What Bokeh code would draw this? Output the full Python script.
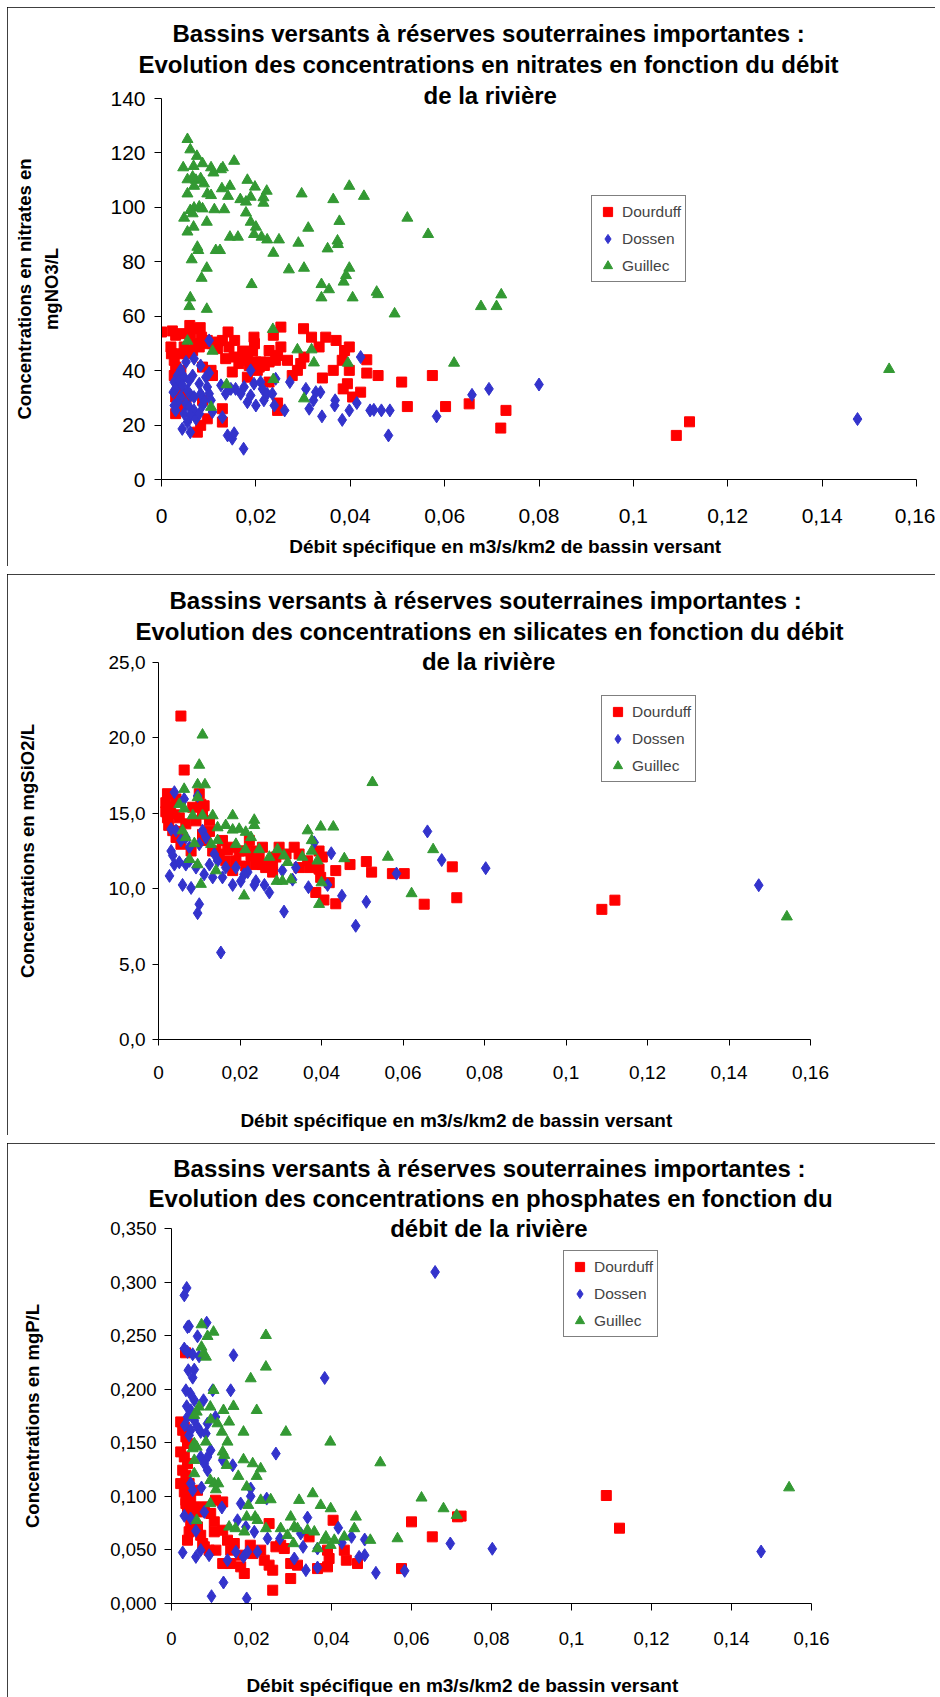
from bokeh.plotting import figure
from bokeh.models import Legend, LegendItem, FixedTicker, Title
from bokeh.layouts import column
from bokeh.embed import file_html
from bokeh.resources import INLINE

# ---------------- DATA ----------------
SERIES = ["Dourduff", "Dossen", "Guillec"]

X_TICKS = [0, 0.02, 0.04, 0.06, 0.08, 0.1, 0.12, 0.14, 0.16]
X_TICK_LABELS = ["0", "0,02", "0,04", "0,06", "0,08", "0,1", "0,12", "0,14", "0,16"]

NO3_TICKS = [0, 20, 40, 60, 80, 100, 120, 140]
NO3_TICK_LABELS = ["0", "20", "40", "60", "80", "100", "120", "140"]
SIO2_TICKS = [0, 5, 10, 15, 20, 25]
SIO2_TICK_LABELS = ["0,0", "5,0", "10,0", "15,0", "20,0", "25,0"]
P_TICKS = [0, 0.05, 0.1, 0.15, 0.2, 0.25, 0.3, 0.35]
P_TICK_LABELS = ["0,000", "0,050", "0,100", "0,150", "0,200", "0,250", "0,300", "0,350"]

# Nitrates (x = débit spécifique, y = mgNO3/L)
NO3_DOURDUFF = [(0.0000,54.2),(0.0023,54.6),(0.0030,53.0),(0.0020,48.7),(0.0021,46.2),(0.0027,43.8),(0.0030,41.3),(0.0027,38.2),(0.0034,35.8),(0.0037,32.7),(0.0030,30.3),(0.0030,24.2),(0.0040,26.6),(0.0044,53.6),(0.0060,56.6),(0.0062,53.6),(0.0073,55.4),(0.0082,55.8),(0.0085,52.3),(0.0071,49.9),(0.0048,48.7),(0.0055,46.2),(0.0066,47.4),(0.0080,48.7),(0.0094,49.9),(0.0041,46.2),(0.0097,51.1),(0.0108,49.9),(0.0119,50.5),(0.0129,51.1),(0.0141,54.2),(0.0155,51.1),(0.0119,48.1),(0.0136,44.4),(0.0143,48.7),(0.0154,45.0),(0.0172,47.2),(0.0175,43.8),(0.0196,52.3),(0.0197,49.9),(0.0193,47.2),(0.0182,45.4),(0.0164,42.6),(0.0186,41.9),(0.0200,43.2),(0.0210,43.2),(0.0228,47.4),(0.0237,53.0),(0.0253,56.0),(0.0253,48.7),(0.0246,45.6),(0.0267,43.8),(0.0242,43.8),(0.0228,43.2),(0.0218,41.9),(0.0207,41.3),(0.0203,40.1),(0.0301,55.4),(0.0318,52.3),(0.0334,48.7),(0.0348,52.3),(0.0370,51.1),(0.0302,45.0),(0.0295,42.6),(0.0288,40.1),(0.0277,38.2),(0.0388,47.4),(0.0398,48.7),(0.0383,43.8),(0.0398,40.1),(0.0394,35.2),(0.0385,33.3),(0.0405,30.3),(0.0422,32.1),(0.0435,44.0),(0.0435,39.1),(0.0341,37.3),(0.0364,40.1),(0.0459,38.2),(0.0509,35.8),(0.0521,26.8),(0.0574,38.2),(0.0602,26.8),(0.0652,27.8),(0.0730,25.4),(0.0719,18.9),(0.0150,39.5),(0.0182,37.6),(0.0228,35.8),(0.0246,28.1),(0.0246,25.4),(0.0129,26.0),(0.0129,21.1),(0.0097,22.3),(0.0076,17.4),(0.0083,19.9),(0.0087,29.1),(0.0105,40.1),(0.0108,38.2),(0.0087,41.3),(0.0041,40.1),(0.0046,31.5),(0.0052,29.7),(0.1091,16.2),(0.1119,21.2)]
NO3_DOSSEN = [(0.0052,43.2),(0.0069,44.4),(0.0083,41.9),(0.0101,51.1),(0.0101,39.1),(0.0041,40.3),(0.0034,38.2),(0.0027,35.8),(0.0030,33.3),(0.0025,32.1),(0.0037,36.4),(0.0048,37.6),(0.0059,36.4),(0.0066,38.2),(0.0044,34.6),(0.0055,32.7),(0.0062,30.9),(0.0041,30.3),(0.0052,27.8),(0.0034,28.4),(0.0027,27.2),(0.0030,25.4),(0.0059,26.6),(0.0069,25.4),(0.0048,24.2),(0.0062,23.5),(0.0073,22.3),(0.0055,21.1),(0.0044,18.6),(0.0061,17.4),(0.0080,24.2),(0.0087,27.2),(0.0090,29.1),(0.0080,35.2),(0.0097,34.0),(0.0101,31.5),(0.0094,37.6),(0.0105,29.1),(0.0069,30.3),(0.0083,31.5),(0.0108,24.8),(0.0126,34.6),(0.0129,22.9),(0.0136,31.5),(0.0140,16.2),(0.0150,15.0),(0.0154,17.0),(0.0174,11.3),(0.0147,33.3),(0.0157,33.3),(0.0168,31.5),(0.0175,34.0),(0.0182,28.4),(0.0189,30.9),(0.0189,40.1),(0.0196,35.2),(0.0200,27.2),(0.0210,35.8),(0.0214,33.3),(0.0217,29.1),(0.0224,31.5),(0.0235,31.5),(0.0239,27.2),(0.0242,37.0),(0.0261,25.4),(0.0272,35.8),(0.0306,33.3),(0.0313,26.0),(0.0322,29.1),(0.0327,32.1),(0.0337,32.1),(0.0340,23.2),(0.0368,29.1),(0.0367,27.2),(0.0383,21.9),(0.0398,25.4),(0.0414,28.1),(0.0422,45.0),(0.0442,25.4),(0.0450,25.6),(0.0466,25.4),(0.0484,25.4),(0.0481,16.2),(0.0583,23.2),(0.0658,31.1),(0.0694,33.3),(0.0800,34.9),(0.1475,22.2)]
NO3_GUILLEC = [(0.0055,125.0),(0.0061,121.2),(0.0075,118.8),(0.0046,114.6),(0.0068,115.1),(0.0087,116.1),(0.0105,114.6),(0.0110,112.7),(0.0126,113.9),(0.0130,114.6),(0.0154,117.0),(0.0055,110.2),(0.0066,111.2),(0.0073,110.0),(0.0083,110.6),(0.0090,108.7),(0.0069,107.8),(0.0097,105.0),(0.0105,104.4),(0.0055,105.0),(0.0128,106.9),(0.0145,107.8),(0.0141,104.1),(0.0182,110.0),(0.0198,107.5),(0.0223,106.0),(0.0216,103.6),(0.0189,103.8),(0.0167,102.9),(0.0179,102.0),(0.0216,101.6),(0.0297,105.0),(0.0364,102.9),(0.0398,107.8),(0.0429,104.1),(0.0521,96.1),(0.0565,90.1),(0.0048,96.1),(0.0061,98.9),(0.0069,99.8),(0.0080,100.2),(0.0087,99.5),(0.0066,97.7),(0.0068,92.8),(0.0055,91.0),(0.0096,94.6),(0.0112,99.2),(0.0133,99.2),(0.0179,98.0),(0.0189,94.6),(0.0200,92.8),(0.0196,90.1),(0.0212,89.1),(0.0224,88.1),(0.0249,88.1),(0.0237,83.2),(0.0145,89.1),(0.0162,89.1),(0.0290,86.9),(0.0311,92.4),(0.0352,84.8),(0.0373,87.7),(0.0374,86.4),(0.0377,94.9),(0.0076,85.4),(0.0078,84.2),(0.0115,84.2),(0.0124,84.2),(0.0064,80.8),(0.0096,77.7),(0.0085,74.0),(0.0191,71.7),(0.0270,77.1),(0.0302,77.7),(0.0339,71.7),(0.0355,69.8),(0.0339,66.8),(0.0386,72.6),(0.0391,75.0),(0.0398,77.7),(0.0405,66.8),(0.0456,68.9),(0.0459,68.0),(0.0494,60.9),(0.0061,66.8),(0.0059,63.6),(0.0096,62.6),(0.0677,63.6),(0.0710,63.6),(0.0720,67.9),(0.0620,42.8),(0.0236,55.2),(0.0055,50.9),(0.0108,47.2),(0.0288,47.7),(0.0318,47.7),(0.0323,42.9),(0.0395,42.8),(0.0237,36.8),(0.0138,34.9),(0.0302,29.7),(0.0105,26.6),(0.1542,40.5)]

# Silicates (y = mgSiO2/L)
SIO2_DOURDUFF = [(0.0063,17.87),(0.0055,21.45),(0.0022,16.3),(0.0018,15.7),(0.0027,15.4),(0.0018,15.1),(0.0022,14.7),(0.0100,16.3),(0.0104,15.6),(0.0112,15.5),(0.0108,14.95),(0.0125,14.5),(0.0125,13.8),(0.0116,13.2),(0.0133,12.5),(0.0149,12.3),(0.0165,11.85),(0.0043,13.4),(0.0035,13.85),(0.0055,12.95),(0.0080,12.5),(0.0182,12.75),(0.0198,12.5),(0.0223,13.2),(0.0239,12.5),(0.0255,12.75),(0.0247,12.1),(0.0239,11.6),(0.0263,11.4),(0.0280,11.6),(0.0296,12.75),(0.0313,12.3),(0.0333,12.75),(0.0345,12.3),(0.0366,11.85),(0.0370,11.4),(0.0394,12.5),(0.0394,11.3),(0.0402,12.1),(0.0398,10.75),(0.0419,10.4),(0.0386,9.75),(0.0406,9.25),(0.0435,11.2),(0.0435,9.0),(0.0470,11.6),(0.0510,11.8),(0.0523,11.1),(0.0574,11.0),(0.0603,11.0),(0.0721,11.45),(0.0732,9.4),(0.0652,8.97),(0.0190,11.85),(0.0214,11.5),(0.0255,11.6),(0.0288,12.1),(0.0214,12.5),(0.0345,11.4),(0.0157,13.2),(0.0170,12.6),(0.0092,14.5),(0.0084,15.4),(0.0043,15.95),(0.0051,14.7),(0.0067,14.3),(0.0108,13.6),(0.0141,12.5),(0.0182,11.2),(0.0227,12.2),(0.0280,11.1),(0.0030,15.0),(0.0025,14.2),(0.0040,14.9),(0.0048,13.8),(0.1088,8.63),(0.1120,9.24)]
SIO2_DOSSEN = [(0.0039,16.4),(0.0063,15.95),(0.0096,16.15),(0.0031,13.95),(0.0043,13.85),(0.0055,13.2),(0.0067,13.4),(0.0076,12.75),(0.0100,12.95),(0.0108,13.85),(0.0031,12.5),(0.0035,12.2),(0.0039,11.6),(0.0051,11.75),(0.0067,11.6),(0.0027,10.85),(0.0059,10.25),(0.0080,10.05),(0.0100,8.97),(0.0096,8.38),(0.0137,12.3),(0.0133,10.75),(0.0157,10.75),(0.0182,10.25),(0.0202,10.5),(0.0219,11.1),(0.0235,10.25),(0.0239,10.5),(0.0260,10.25),(0.0272,9.75),(0.0153,5.77),(0.0308,8.48),(0.0304,11.2),(0.0337,11.4),(0.0329,10.6),(0.0382,13.07),(0.0368,10.1),(0.0415,10.25),(0.0424,12.35),(0.0450,9.53),(0.0484,7.54),(0.0510,9.13),(0.0584,11.0),(0.0660,13.8),(0.0695,11.9),(0.0116,13.4),(0.0125,11.6),(0.0145,11.85),(0.0165,11.4),(0.0190,11.4),(0.0210,10.95),(0.0076,11.85),(0.0092,11.4),(0.0112,10.95),(0.0803,11.36),(0.1473,10.23)]
SIO2_GUILLEC = [(0.0108,20.2),(0.0100,18.2),(0.0096,16.9),(0.0114,16.9),(0.0063,16.6),(0.0096,16.05),(0.0051,15.6),(0.0063,15.3),(0.0084,14.85),(0.0108,14.85),(0.0133,14.85),(0.0182,14.85),(0.0235,14.55),(0.0235,14.2),(0.0145,14.05),(0.0165,14.2),(0.0182,13.9),(0.0198,13.95),(0.0214,13.75),(0.0227,13.4),(0.0059,13.85),(0.0067,13.4),(0.0088,13.0),(0.0129,12.95),(0.0145,13.2),(0.0190,12.95),(0.0213,12.6),(0.0247,12.6),(0.0292,12.6),(0.0272,12.1),(0.0308,12.2),(0.0317,11.75),(0.0353,12.1),(0.0366,13.85),(0.0376,13.2),(0.0398,14.1),(0.0429,14.1),(0.0376,12.5),(0.0390,11.85),(0.0076,11.95),(0.0096,11.6),(0.0141,11.2),(0.0104,10.3),(0.0210,9.53),(0.0290,10.5),(0.0304,10.5),(0.0325,10.6),(0.0400,10.4),(0.0394,8.97),(0.0456,12.0),(0.0525,17.05),(0.0563,12.1),(0.0621,9.68),(0.0674,12.6),(0.1542,8.14)]

# Phosphates (y = mgP/L)
P_DOURDUFF = [(0.0023,0.1695),(0.0032,0.1648),(0.0028,0.1617),(0.0036,0.1555),(0.0040,0.1493),(0.0023,0.1415),(0.0032,0.1368),(0.0040,0.1306),(0.0028,0.1244),(0.0036,0.1197),(0.0023,0.1119),(0.0044,0.1119),(0.0032,0.1042),(0.0048,0.0995),(0.0036,0.0933),(0.0057,0.0902),(0.0040,0.0840),(0.0069,0.0855),(0.0082,0.0902),(0.0098,0.0840),(0.0110,0.0964),(0.0128,0.0948),(0.0048,0.0746),(0.0065,0.0715),(0.0044,0.0669),(0.0073,0.0637),(0.0040,0.0591),(0.0078,0.0560),(0.0107,0.0669),(0.0128,0.0684),(0.0140,0.0591),(0.0157,0.0560),(0.0111,0.0498),(0.0128,0.0373),(0.0148,0.0373),(0.0173,0.0342),(0.0182,0.0280),(0.0197,0.0544),(0.0203,0.0466),(0.0223,0.0498),(0.0232,0.0404),(0.0244,0.0746),(0.0244,0.0358),(0.0253,0.0311),(0.0253,0.0124),(0.0261,0.0529),(0.0273,0.0544),(0.0282,0.0513),(0.0298,0.0233),(0.0298,0.0373),(0.0315,0.0358),(0.0344,0.0622),(0.0365,0.0326),(0.0390,0.0342),(0.0394,0.0420),(0.0390,0.0498),(0.0404,0.0777),(0.0432,0.0498),(0.0437,0.0404),(0.0465,0.0373),(0.0148,0.0498),(0.0173,0.0451),(0.0082,0.0529),(0.0094,0.0498),(0.0107,0.0762),(0.0053,0.0809),(0.0065,0.1057),(0.0036,0.0964),(0.0575,0.0326),(0.0600,0.0762),(0.0652,0.0622),(0.0715,0.0809),(0.0724,0.0816),(0.0035,0.2340),(0.1087,0.1008),(0.1120,0.0703)]
P_DOSSEN = [(0.0038,0.2945),(0.0032,0.2876),(0.0040,0.2580),(0.0044,0.2587),(0.0088,0.2621),(0.0065,0.2494),(0.0032,0.2379),(0.0040,0.2348),(0.0053,0.2326),(0.0069,0.2307),(0.0155,0.2317),(0.0042,0.2177),(0.0057,0.2183),(0.0053,0.2108),(0.0036,0.1990),(0.0047,0.1959),(0.0057,0.1897),(0.0080,0.1897),(0.0103,0.1990),(0.0148,0.1990),(0.0038,0.1841),(0.0048,0.1803),(0.0040,0.1741),(0.0033,0.1664),(0.0057,0.1710),(0.0065,0.1648),(0.0048,0.1617),(0.0044,0.1570),(0.0073,0.1601),(0.0086,0.1586),(0.0090,0.1679),(0.0110,0.1741),(0.0098,0.1430),(0.0090,0.1368),(0.0073,0.1368),(0.0082,0.1306),(0.0090,0.1244),(0.0128,0.1337),(0.0153,0.1290),(0.0261,0.1399),(0.0048,0.1119),(0.0053,0.1057),(0.0075,0.1082),(0.0198,0.1073),(0.0198,0.1001),(0.0238,0.0979),(0.0173,0.0933),(0.0126,0.0896),(0.0032,0.0818),(0.0048,0.0793),(0.0082,0.0855),(0.0061,0.0678),(0.0165,0.0777),(0.0186,0.0715),(0.0207,0.0669),(0.0240,0.0606),(0.0271,0.0606),(0.0323,0.0653),(0.0340,0.0802),(0.0417,0.0706),(0.0450,0.0622),(0.0483,0.0597),(0.0426,0.0566),(0.0329,0.0529),(0.0365,0.0513),(0.0028,0.0476),(0.0061,0.0435),(0.0073,0.0498),(0.0094,0.0451),(0.0140,0.0404),(0.0161,0.0482),(0.0180,0.0435),(0.0190,0.0482),(0.0215,0.0482),(0.0307,0.0420),(0.0469,0.0435),(0.0483,0.0451),(0.0336,0.0311),(0.0365,0.0336),(0.0511,0.0286),(0.0583,0.0305),(0.0100,0.0068),(0.0130,0.0196),(0.0188,0.0047),(0.0659,0.3094),(0.0383,0.2105),(0.0697,0.0560),(0.0802,0.0511),(0.1474,0.0485)]
P_GUILLEC = [(0.0075,0.2603),(0.0090,0.2494),(0.0105,0.2534),(0.0236,0.2503),(0.0075,0.2394),(0.0080,0.2332),(0.0086,0.2301),(0.0236,0.2208),(0.0198,0.2099),(0.0105,0.1990),(0.0069,0.1835),(0.0063,0.1788),(0.0097,0.1835),(0.0130,0.1803),(0.0155,0.1841),(0.0213,0.1803),(0.0098,0.1716),(0.0115,0.1679),(0.0144,0.1695),(0.0057,0.1757),(0.0180,0.1601),(0.0286,0.1601),(0.0126,0.1601),(0.0140,0.1508),(0.0086,0.1508),(0.0057,0.1493),(0.0053,0.1446),(0.0063,0.1461),(0.0128,0.1415),(0.0132,0.1384),(0.0397,0.1508),(0.0057,0.1337),(0.0057,0.1213),(0.0138,0.1290),(0.0180,0.1343),(0.0203,0.1306),(0.0223,0.1259),(0.0167,0.1188),(0.0213,0.1188),(0.0522,0.1315),(0.0097,0.1150),(0.0107,0.1119),(0.0117,0.1119),(0.0111,0.1063),(0.0188,0.1088),(0.0097,0.0933),(0.0192,0.0917),(0.0223,0.0964),(0.0248,0.0970),(0.0319,0.0964),(0.0353,0.1026),(0.0373,0.0917),(0.0398,0.0886),(0.0063,0.0777),(0.0188,0.0808),(0.0209,0.0808),(0.0298,0.0808),(0.0461,0.0808),(0.0625,0.0986),(0.0680,0.0886),(0.0713,0.0824),(0.0144,0.0715),(0.0160,0.0700),(0.0182,0.0669),(0.0215,0.0777),(0.0236,0.0700),(0.0273,0.0700),(0.0290,0.0637),(0.0307,0.0715),(0.0315,0.0700),(0.0340,0.0684),(0.0357,0.0669),(0.0386,0.0622),(0.0407,0.0591),(0.0432,0.0622),(0.0457,0.0700),(0.0497,0.0591),(0.0565,0.0606),(0.0305,0.0560),(0.0365,0.0513),(0.0398,0.0544),(0.0382,0.0591),(0.1544,0.1081)]

TITLE_L1 = "Bassins versants à réserves souterraines importantes :"
NO3_TITLE = [TITLE_L1, "Evolution des concentrations en nitrates en fonction du débit", "de la rivière"]
SIO2_TITLE = [TITLE_L1, "Evolution des concentrations en silicates en fonction du débit", "de la rivière"]
P_TITLE = [TITLE_L1, "Evolution des concentrations en phosphates en fonction du", "débit de la rivière"]
X_TITLE = "Débit spécifique en m3/s/km2 de bassin versant"
NO3_YTITLE = "Concentrations en nitrates en\nmgNO3/L"
SIO2_YTITLE = "Concentrations en mgSiO2/L"
P_YTITLE = "Concentrations en mgP/L"

# ---------------- STYLE ----------------
FONT = "Liberation Sans"
COLORS = ["#FF0000", "#3333CC", "#339933"]
MARKERS = ["square", "diamond", "triangle"]
SIZES = [10, 13, 11]
FIG_W = 928


def add_title(p, text, place, size, offset, standoff, valign="middle", style="bold"):
    t = Title(text=text, align="left", offset=offset, vertical_align=valign,
              text_font=FONT, text_font_size=size, text_font_style=style, text_color="black")
    try:
        t.standoff = standoff
    except Exception:
        t.standoff = 0
    p.add_layout(t, place)


def make_panel(cfg, series_data):
    l, r, t, b = cfg["borders"]
    p = figure(width=FIG_W, height=cfg["height"], x_range=(0, 0.16), y_range=cfg["yrange"],
               output_backend="svg", toolbar_location=None, title=None,
               min_border_left=l, min_border_right=r, min_border_top=t, min_border_bottom=b,
               background_fill_color="white", border_fill_color="white")
    try:
        p.frame_align = False
    except Exception:
        pass
    p.outline_line_color = None
    p.xgrid.visible = False
    p.ygrid.visible = False
    p.styles = {"outline": "2px solid #000", "outline-offset": "-2px",
                "width": f"{FIG_W}px", "height": f"{cfg['height']}px"}

    for ax, ticks, labels, standoff in ((p.xaxis[0], X_TICKS, X_TICK_LABELS, cfg["xstand"]),
                                        (p.yaxis[0], cfg["yticks"], cfg["ylabels"], cfg["ystand"])):
        ax.ticker = FixedTicker(ticks=ticks)
        ax.major_label_overrides = dict(zip(ticks, labels))
        ax.major_label_text_font = FONT
        ax.major_label_text_font_size = cfg["tickfont"]
        ax.major_label_text_color = "black"
        ax.major_label_standoff = int(round(standoff))
        ax.major_tick_out = cfg["tickout"]
        ax.major_tick_in = 0
        ax.minor_tick_line_color = None
        ax.axis_line_color = "black"
        ax.major_tick_line_color = "black"

    ya = p.yaxis[0]
    ya.axis_label = cfg["ytitle"]
    ya.axis_label_text_font = FONT
    ya.axis_label_text_font_style = "bold"
    ya.axis_label_text_font_size = "18.5px"
    ya.axis_label_text_color = "black"
    ya.axis_label_standoff = int(round(cfg["ylab_stand"]))
    ya.axis_label_text_align = "center"
    ya.axis_label_text_line_height = 1.3

    renderers = []
    for data, color, marker, size in zip(series_data, COLORS, MARKERS, SIZES):
        xs = [d[0] for d in data]
        ys = [d[1] for d in data]
        renderers.append(p.scatter(xs, ys, marker=marker, size=size, fill_color=color,
                                   line_color=color, line_width=1))

    legend = Legend(items=[LegendItem(label=name, renderers=[rr]) for name, rr in zip(SERIES, renderers)],
                    location=cfg["legend"], margin=0, padding=4, spacing=4,
                    glyph_width=23, glyph_height=23, label_height=20, label_standoff=3,
                    label_text_font=FONT, label_text_font_size="15.5px",
                    border_line_color="black", border_line_width=1,
                    background_fill_color="white", background_fill_alpha=1)
    p.add_layout(legend)

    # title lines, nearest to the frame first
    for text, off, so in reversed(list(zip(cfg["title"], cfg["title_off"], cfg["title_so"]))):
        add_title(p, text, "above", "24px", off, so)

    # x axis title: spacer then text
    add_title(p, " ", "below", "8px", 0, cfg["xsp"], valign="bottom", style="normal")
    add_title(p, X_TITLE, "below", "19px", cfg["xt_off"], cfg["xt_so"], valign=cfg["xt_va"])
    return p


cfg1 = dict(height=559, borders=(154, 19, 91, 87), yrange=(0, 140), yticks=NO3_TICKS, ylabels=NO3_TICK_LABELS,
            tickfont="21px", xstand=22, ystand=9, tickout=7, legend=(430, 197),
            title=NO3_TITLE, title_off=[11, -23, 262], title_so=[-22.4, 26.8, -22.6],
            xsp=-3, xt_off=127.8, xt_so=0, xt_va="bottom", ytitle=NO3_YTITLE, ylab_stand=45)
cfg2 = dict(height=561, borders=(151, 125, 88, 96), yrange=(0, 25), yticks=SIO2_TICKS, ylabels=SIO2_TICK_LABELS,
            tickfont="19px", xstand=20, ystand=7, tickout=6, legend=(443, 257),
            title=SIO2_TITLE, title_off=[11, -23, 263.4], title_so=[-26.6, 30.4, -26.8],
            xsp=14.7, xt_off=81.9, xt_so=0, xt_va="bottom", ytitle=SIO2_YTITLE, ylab_stand=68)
cfg3 = dict(height=554, borders=(164, 124, 85, 94), yrange=(0, 0.35), yticks=P_TICKS, ylabels=P_TICK_LABELS,
            tickfont="18.5px", xstand=21, ystand=8, tickout=7, legend=(392, 266),
            title=P_TITLE, title_off=[1.7, -22.9, 218.7], title_so=[-28.6, 30.8, -28.6],
            xsp=13.9, xt_off=74.9, xt_so=0, xt_va="bottom", ytitle=P_YTITLE, ylab_stand=64)

p1 = make_panel(cfg1, [NO3_DOURDUFF, NO3_DOSSEN, NO3_GUILLEC])
p2 = make_panel(cfg2, [SIO2_DOURDUFF, SIO2_DOSSEN, SIO2_GUILLEC])
p3 = make_panel(cfg3, [P_DOURDUFF, P_DOSSEN, P_GUILLEC])

layout = column(p1, p2, p3, spacing=8, margin=(7, 0, 0, 7))
open("out.html", "w").write(file_html(layout, INLINE))
